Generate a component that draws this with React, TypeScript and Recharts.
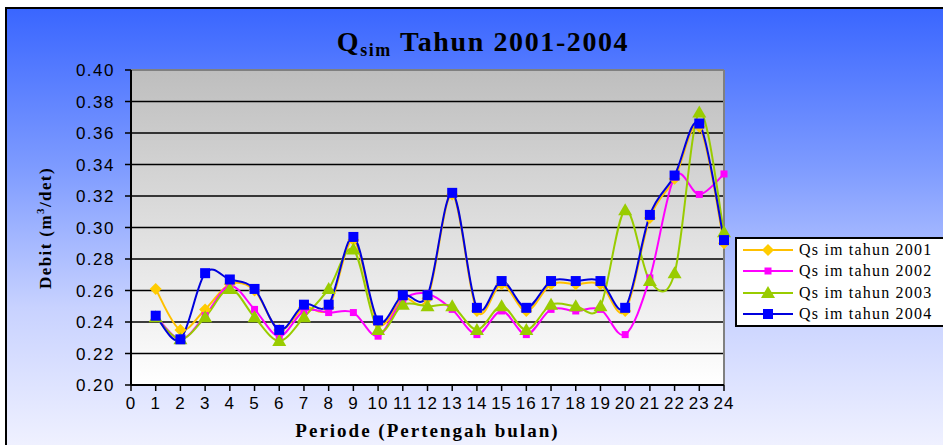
import { LineChart, Line, XAxis, YAxis, CartesianGrid, ReferenceLine, Legend } from "recharts";

const periods = [1, 2, 3, 4, 5, 6, 7, 8, 9, 10, 11, 12, 13, 14, 15, 16, 17, 18, 19, 20, 21, 22, 23, 24];

const q2001 = [0.261, 0.235, 0.248, 0.264, 0.26, 0.235, 0.249, 0.249, 0.292, 0.239, 0.255, 0.255, 0.321, 0.247, 0.264, 0.247, 0.264, 0.264, 0.264, 0.247, 0.306, 0.331, 0.364, 0.29];
const q2002 = [0.244, 0.229, 0.244, 0.263, 0.248, 0.231, 0.247, 0.246, 0.246, 0.231, 0.254, 0.258, 0.248, 0.232, 0.247, 0.232, 0.248, 0.247, 0.248, 0.232, 0.268, 0.332, 0.321, 0.334];
const q2003 = [0.243, 0.229, 0.243, 0.261, 0.243, 0.228, 0.243, 0.261, 0.286, 0.235, 0.251, 0.25, 0.25, 0.235, 0.25, 0.235, 0.251, 0.25, 0.25, 0.311, 0.266, 0.271, 0.373, 0.297];
const q2004 = [0.244, 0.229, 0.271, 0.267, 0.261, 0.235, 0.251, 0.251, 0.294, 0.241, 0.257, 0.257, 0.322, 0.249, 0.266, 0.249, 0.266, 0.266, 0.266, 0.249, 0.308, 0.333, 0.366, 0.292];

const xTicks = [0, 1, 2, 3, 4, 5, 6, 7, 8, 9, 10, 11, 12, 13, 14, 15, 16, 17, 18, 19, 20, 21, 22, 23, 24];
const yTicks = [0.2, 0.22, 0.24, 0.26, 0.28, 0.3, 0.32, 0.34, 0.36, 0.38, 0.4];
const gridValues = [0.22, 0.24, 0.26, 0.28, 0.3, 0.32, 0.34, 0.36, 0.38];

const seriesNames = ["Qs im tahun 2001", "Qs im tahun 2002", "Qs im tahun 2003", "Qs im tahun 2004"];

const data = periods.map((p, i) => ({
  periode: p,
  y2001: q2001[i],
  y2002: q2002[i],
  y2003: q2003[i],
  y2004: q2004[i],
}));

// excel-like smoothed line (catmull-rom through every point)
const smoothCurve = (context: any) => {
  let pts: number[][] = [];
  return {
    areaStart() {},
    areaEnd() {},
    lineStart() {
      pts = [];
    },
    point(x: number, y: number) {
      pts.push([+x, +y]);
    },
    lineEnd() {
      const n = pts.length;
      if (!n) return;
      context.moveTo(pts[0][0], pts[0][1]);
      for (let i = 0; i < n - 1; i++) {
        const p0 = pts[i - 1] || pts[i];
        const p1 = pts[i];
        const p2 = pts[i + 1];
        const p3 = pts[i + 2] || p2;
        context.bezierCurveTo(
          p1[0] + (p2[0] - p0[0]) / 6,
          p1[1] + (p2[1] - p0[1]) / 6,
          p2[0] - (p3[0] - p1[0]) / 6,
          p2[1] - (p3[1] - p1[1]) / 6,
          p2[0],
          p2[1]
        );
      }
    },
  };
};

const Diamond = ({ cx, cy, fill }: any) => (
  <path d={`M${cx},${cy - 6}L${cx + 6},${cy}L${cx},${cy + 6}L${cx - 6},${cy}Z`} fill={fill} />
);
const SmallSquare = ({ cx, cy, fill }: any) => <rect x={cx - 3.5} y={cy - 3.5} width={7} height={7} fill={fill} />;
const Triangle = ({ cx, cy, fill }: any) => (
  <path d={`M${cx},${cy - 7}L${cx + 7},${cy + 5}L${cx - 7},${cy + 5}Z`} fill={fill} />
);
const BigSquare = ({ cx, cy, fill }: any) => <rect x={cx - 5} y={cy - 5} width={10} height={10} fill={fill} />;

const styles = [
  { key: "y2001", line: "#FFC000", marker: "#FFCC00", Shape: Diamond },
  { key: "y2002", line: "#FF00FF", marker: "#FF00FF", Shape: SmallSquare },
  { key: "y2003", line: "#99CC00", marker: "#99CC00", Shape: Triangle },
  { key: "y2004", line: "#0000DD", marker: "#0000FF", Shape: BigSquare },
];

const LegendBox = () => (
  <div
    style={{
      background: "#fff",
      border: "2px solid #000",
      width: 220,
      height: 90,
      boxSizing: "border-box",
    }}
  >
    {styles.map((s, i) => (
      <div key={s.key} style={{ display: "flex", alignItems: "center", height: 21.5 }}>
        <svg width={62} height={16} style={{ flex: "none" }}>
          <line x1={6} y1={8} x2={56} y2={8} stroke={s.line} strokeWidth={2} />
          <s.Shape cx={31} cy={8} fill={s.marker} />
        </svg>
        <span
          style={{
            fontFamily: "'Liberation Serif', serif",
            fontSize: 16,
            letterSpacing: 1.2,
            color: "#000",
            whiteSpace: "nowrap",
          }}
        >
          {seriesNames[i]}
        </span>
      </div>
    ))}
  </div>
);

export default function App() {
  return (
    <div style={{ position: "absolute", left: 0, top: 0, width: 943, height: 445, background: "#fff", overflow: "hidden" }}>
      <svg width={0} height={0} style={{ position: "absolute" }}>
        <defs>
          <linearGradient id="plotBg" x1="0" y1="0" x2="0" y2="1">
            <stop offset="0%" stopColor="#BEBEBE" />
            <stop offset="100%" stopColor="#FFFFFF" />
          </linearGradient>
        </defs>
      </svg>
      <div
        style={{
          position: "absolute",
          left: 5,
          top: 7,
          width: 960,
          height: 460,
          borderLeft: "2px solid #000",
          borderTop: "2px solid #000",
          background: "linear-gradient(to bottom, #3A66FF 0%, #7F9CFF 35%, #C8D2FF 65%, #F6F6FF 100%)",
        }}
      />
      <div
        style={{
          position: "absolute",
          left: 0,
          width: 966,
          top: 26,
          textAlign: "center",
          fontFamily: "'Liberation Serif', serif",
          fontWeight: "bold",
          fontSize: 28,
          letterSpacing: 1.6,
          color: "#000",
          whiteSpace: "nowrap",
        }}
      >
        Q<span style={{ fontSize: 18, position: "relative", top: 5 }}>sim</span> Tahun 2001-2004
      </div>
      <div
        style={{
          position: "absolute",
          left: 45,
          top: 228,
          transform: "translate(-50%, -50%) rotate(-90deg)",
          fontFamily: "'Liberation Serif', serif",
          fontWeight: "bold",
          fontSize: 17,
          letterSpacing: 1.4,
          color: "#000",
          whiteSpace: "nowrap",
        }}
      >
        Debit (m<sup style={{ fontSize: 11 }}>3</sup>/det)
      </div>
      <div style={{ position: "absolute", left: 0, top: 0 }}>
        <LineChart width={943} height={445} data={data} margin={{ top: 70, right: 219, bottom: 0, left: 0 }}>
          <CartesianGrid
            vertical={false}
            horizontalValues={gridValues}
            stroke="#000"
            strokeWidth={1.5}
            fill="url(#plotBg)"
          />
          <XAxis
            dataKey="periode"
            type="number"
            domain={[0, 24]}
            ticks={xTicks}
            interval={0}
            height={60}
            tickSize={6}
            tickMargin={6}
            axisLine={{ stroke: "#000", strokeWidth: 2 }}
            tickLine={{ stroke: "#000", strokeWidth: 1.5 }}
            tick={{ fill: "#000", fontSize: 17, fontFamily: "'Liberation Sans', Arial, sans-serif", letterSpacing: 1 }}
            label={{
              value: "Periode (Pertengah bulan)",
              position: "insideBottom",
              offset: 8,
              fill: "#000",
              fontSize: 19,
              letterSpacing: 2,
              fontWeight: "bold",
              fontFamily: "'Liberation Serif', serif",
            }}
          />
          <YAxis
            type="number"
            domain={[0.2, 0.4]}
            ticks={yTicks}
            width={131}
            tickSize={6}
            tickMargin={10}
            tickFormatter={(v: number) => v.toFixed(2)}
            axisLine={{ stroke: "#000", strokeWidth: 2 }}
            tickLine={{ stroke: "#000", strokeWidth: 1.5 }}
            tick={{ fill: "#000", fontSize: 17, fontFamily: "'Liberation Sans', Arial, sans-serif", letterSpacing: 1.5 }}
          />
          <ReferenceLine y={0.4} stroke="#808080" strokeWidth={2} />
          <ReferenceLine x={24} stroke="#808080" strokeWidth={2} />
          {styles.map((s) => (
            <Line
              key={s.key}
              dataKey={s.key}
              type={smoothCurve as any}
              stroke={s.line}
              strokeWidth={2}
              isAnimationActive={false}
              dot={(p: any) => <s.Shape key={`${s.key}-${p.index}`} cx={p.cx} cy={p.cy} fill={s.marker} />}
              activeDot={false}
            />
          ))}
          <Legend
            layout="vertical"
            align="center"
            verticalAlign="middle"
            content={() => <LegendBox />}
            wrapperStyle={{ left: 735, top: 237, width: 220, height: 90 }}
          />
        </LineChart>
      </div>
    </div>
  );
}
